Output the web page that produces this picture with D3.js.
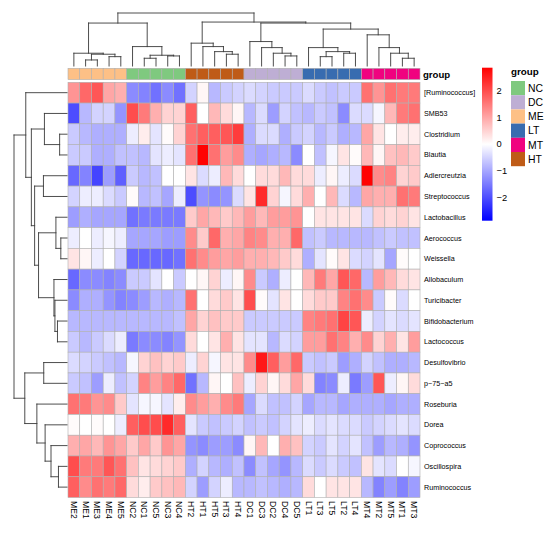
<!DOCTYPE html>
<html><head><meta charset="utf-8">
<script src="https://cdn.jsdelivr.net/npm/d3@7"></script>
<style>
body{margin:0;background:#fff}
svg{display:block}
text{font-family:"Liberation Sans",Arial,Helvetica,sans-serif;fill:#000}
</style>
</head><body>
<svg id="chart" width="550" height="533"></svg>
<script>
// ---------- data ----------
const cols = ["ME2","ME1","ME3","ME4","ME5","NC2","NC1","NC5","NC3","NC4",
  "HT2","HT1","HT5","HT3","HT4","DC1","DC3","DC2","DC4","DC5",
  "LT1","LT3","LT5","LT2","LT4","MT4","MT2","MT5","MT1","MT3"];
const colGroups = ["ME","ME","ME","ME","ME","NC","NC","NC","NC","NC",
  "HT","HT","HT","HT","HT","DC","DC","DC","DC","DC",
  "LT","LT","LT","LT","LT","MT","MT","MT","MT","MT"];
const rows = ["[Ruminococcus]","SMB53","Clostridium","Blautia","Adlercreutzia","Streptococcus",
  "Lactobacillus","Aerococcus","Weissella","Allobaculum","Turicibacter","Bifidobacterium",
  "Lactococcus","Desulfovibrio","p\u221275\u2212a5","Roseburia","Dorea","Coprococcus","Oscillospira","Ruminococcus"];
const groupNames = ["NC","DC","ME","LT","MT","HT"];
const groupColors = ["#7FC97F","#BEAED4","#FDC086","#386CB0","#F0027F","#BF5B17"];
const legendTicks = [2,1,0,-1,-2];
const values = [
 [1.2,1.7,1.9,1.0,0.9,-1.3,-1.4,-1.6,-1.3,-1.6,-0.5,0.1,-0.8,-0.6,-0.5,-0.4,-0.5,-0.6,-0.6,-0.6,-0.4,-0.6,-0.7,-0.6,-0.6,1.6,1.2,1.6,1.5,1.5],
 [-2.0,-0.8,-0.5,-0.5,-1.2,2.0,1.5,0.9,0.5,0.5,1.8,0.0,0.8,0.4,0.1,-0.8,-0.4,-1.1,-0.5,-0.7,-0.8,-0.6,-0.7,-1.3,-0.4,-0.4,-0.1,0.8,1.5,1.6],
 [-0.6,-0.8,-0.9,-0.9,-0.9,-0.2,0.2,-0.3,0.05,0.5,1.6,1.8,1.8,1.9,2.2,-0.9,-0.4,-0.4,-0.9,-0.6,-0.5,-0.8,-0.6,-0.9,-0.8,1.0,0.3,0.0,0.2,0.2],
 [-0.6,-0.6,-0.9,-0.9,-0.7,-0.7,-0.8,-0.3,-0.2,-0.3,1.6,2.85,1.6,1.1,1.3,-0.9,-1.0,-0.9,-0.8,-1.3,0.0,-0.7,-0.1,0.3,0.05,0.8,0.1,0.7,0.8,0.6],
 [-1.7,-1.4,-2.1,-1.1,-1.8,-0.6,-0.8,-0.7,0.0,0.0,0.3,-0.4,-0.2,0.8,0.4,0.0,0.4,0.4,0.8,0.4,0.4,-0.2,0.1,-0.2,-0.4,2.85,1.3,1.4,0.5,0.6],
 [-0.5,-0.2,-0.2,-0.4,-0.6,0.05,-0.8,-0.7,-1.0,-0.2,-2.0,-1.2,-1.3,-1.2,-0.4,0.3,2.4,0.5,-0.1,0.4,0.9,0.0,0.8,-0.4,-0.8,1.0,0.9,0.9,1.6,1.5],
 [-1.1,-0.9,-1.0,-1.0,-1.0,-1.6,-1.5,-1.5,-1.5,-1.5,0.6,1.0,0.8,0.6,0.8,1.1,0.8,1.1,1.1,1.2,0.0,0.3,0.3,0.3,0.3,-0.4,0.5,0.4,0.5,0.3],
 [-0.2,0.0,-0.2,-0.1,-0.2,-1.0,-1.0,-1.0,-1.1,-1.1,1.3,0.6,1.7,0.9,1.0,1.4,1.3,0.9,0.9,1.7,-0.7,-0.6,-0.8,-0.8,-0.8,-0.8,-0.7,-0.6,-0.7,-0.7],
 [0.3,0.1,-0.2,0.0,-0.5,-1.7,-1.7,-1.7,-1.7,-1.6,1.6,1.3,1.1,1.0,1.1,0.9,0.9,0.8,0.6,0.4,-0.9,-0.3,0.05,0.3,-0.4,-0.5,-0.3,-1.0,0.05,0.0],
 [-1.7,-1.3,-1.3,-1.4,-1.3,-0.6,-0.6,-0.3,0.0,-0.6,0.0,0.1,0.5,-0.2,0.1,1.3,-0.6,-0.9,-0.2,0.0,0.8,1.5,1.0,1.9,1.7,-0.8,1.1,0.8,0.4,0.3],
 [-1.3,-0.9,-0.9,-1.2,-1.4,-1.3,-1.1,-0.8,-0.9,-0.8,1.6,0.0,0.4,0.6,0.3,2.0,0.05,-0.3,0.3,0.0,0.4,0.6,0.6,1.4,1.6,1.3,-0.6,0.05,-0.4,0.0],
 [-0.8,-0.8,-0.8,-0.8,-0.8,-0.8,-0.8,-0.8,-0.8,-0.7,1.0,0.5,0.7,0.6,0.6,-0.6,-0.6,-0.6,-0.6,-0.6,1.4,1.5,1.6,2.1,1.9,-0.2,-0.5,-0.3,-0.4,-0.3],
 [-0.6,-0.8,-0.6,-0.4,-0.2,-1.5,-1.3,-1.3,-1.4,-1.2,0.4,0.0,0.3,0.9,0.3,-0.3,-0.3,-0.8,-0.4,-0.5,1.1,1.1,1.6,1.4,0.9,1.3,0.5,0.9,0.3,1.1],
 [-0.4,-0.5,-0.6,-0.7,-0.8,-0.1,0.5,0.7,0.5,0.6,-0.2,0.5,-0.1,0.3,0.3,1.3,2.6,1.8,1.1,1.7,-0.6,-0.7,-0.6,-1.1,-0.9,-0.5,-0.7,-0.9,-0.9,-0.8],
 [-0.6,-0.7,-1.1,-0.2,-0.7,-0.5,1.4,1.1,1.4,1.7,-1.6,-0.8,0.1,0.0,0.7,-0.2,0.5,0.1,0.4,1.0,0.4,-1.4,-1.3,-0.2,-1.5,-1.1,1.9,-0.2,0.1,0.4],
 [1.6,1.5,1.2,1.3,0.6,-0.3,-0.1,-0.1,-0.3,0.2,1.3,1.1,0.9,1.3,1.5,-1.0,-0.4,-0.7,-0.7,-0.5,-1.0,-0.8,-0.8,-1.0,-0.9,-0.9,-0.9,-1.0,-0.9,-0.9],
 [0.05,0.0,0.05,0.0,-0.2,1.8,2.0,2.0,2.4,1.8,-0.3,-0.6,-0.7,-0.6,-0.5,-0.7,-0.6,-0.7,-0.5,-0.3,-0.2,-0.4,-0.3,-0.4,-0.4,-0.6,-0.5,-0.4,-0.3,-0.4],
 [0.9,1.0,0.8,1.2,1.0,0.6,1.0,0.6,1.2,1.0,-1.2,-1.3,-1.1,-1.1,-1.3,0.1,0.8,0.0,0.9,0.7,-0.5,-0.6,-0.3,-0.5,-0.3,-0.7,-1.1,-0.8,-0.9,-1.2],
 [2.0,1.5,1.5,1.9,1.6,0.7,0.3,0.4,0.5,0.6,-0.9,-0.5,-0.8,-0.9,-0.7,-1.3,-0.7,-1.0,-1.2,-0.8,-0.4,-0.6,-0.4,-0.6,-0.7,0.3,-0.3,-0.4,0.0,-0.1],
 [1.8,1.3,1.6,1.5,1.7,0.4,0.2,0.6,0.7,0.8,-0.5,-1.1,-0.5,-0.2,-0.8,-0.8,-0.7,-0.8,-0.9,-0.8,0.4,0.0,0.3,0.3,0.3,-0.8,-1.4,-1.1,-1.4,-1.1]
];
// dendrograms: [mergeHeight, left, right]; leaves are names
const colTree = [52.7,
  [42.7,
    [12.7,"ME2",[11.7,[6,"ME1","ME3"],[9.3,"ME4","ME5"]]],
    [19.3,"NC2",[10.7,[7.7,"NC1","NC5"],[10,"NC3","NC4"]]]],
  [43.7,
    [22.7,"HT2",[19.3,"HT1",[14.3,"HT5",[11.7,"HT3","HT4"]]]],
    [42.7,
      [24.3,"DC1",[18.3,"DC3",[12.7,"DC2",[10,"DC4","DC5"]]]],
      [36.7,
        [18.3,"LT1",[14.3,[9.3,"LT3","LT5"],[12.7,"LT2","LT4"]]],
        [31,"MT4",[18.3,"MT2",[12.7,"MT5",[7.7,"MT1","MT3"]]]]]]]];
const rowTree = [54,
  [42,"[Ruminococcus]",
    [36.3,
      [23,"SMB53",[7.5,"Clostridium","Blautia"]],
      [33,[24,"Adlercreutzia","Streptococcus"],
        [29,
          [11.3,"Lactobacillus",[6.3,"Aerococcus","Weissella"]],
          [13.3,"Allobaculum",[12.3,"Turicibacter",[9.7,"Bifidobacterium","Lactococcus"]]]]]]],
  [43,[23.7,"Desulfovibrio","p\u221275\u2212a5"],
    [30.7,"Roseburia",[22.3,"Dorea",[16.3,"Coprococcus",[8.7,"Oscillospira","Ruminococcus"]]]]]];

// ---------- layout ----------
const svg = d3.select("#chart");
const x = d3.scaleBand().domain(cols).range([68,420]);
const y = d3.scaleBand().domain(rows).range([82.3,497.5]);
const color = d3.scaleLinear().domain([-2.87,0,2.87]).range(["#0000ff","#ffffff","#ff0000"]).clamp(true);
const grpColor = d3.scaleOrdinal().domain(groupNames).range(groupColors);
const border = "#b0b0b0";

// heatmap cells
const cells = [];
rows.forEach((r,i)=>cols.forEach((c,j)=>cells.push({r,c,v:values[i][j]})));
svg.append("g").selectAll("rect").data(cells).join("rect")
  .attr("x",d=>x(d.c)).attr("y",d=>y(d.r))
  .attr("width",x.bandwidth()).attr("height",y.bandwidth())
  .attr("fill",d=>color(d.v)).attr("stroke",border).attr("stroke-width",0.6);

// annotation bar
svg.append("g").selectAll("rect").data(cols).join("rect")
  .attr("x",d=>x(d)).attr("y",68.3).attr("width",x.bandwidth()).attr("height",11.3)
  .attr("fill",(d,i)=>grpColor(colGroups[i])).attr("stroke",border).attr("stroke-width",0.6);
svg.append("text").attr("x",423).attr("y",77.6).attr("font-size","9.6px").attr("font-weight","bold").text("group");

// dendrogram drawing
function dendro(tree, leafPos, hScale, vertical){
  const segs = [];
  function walk(n){
    if (typeof n === "string") return {p: leafPos(n), h: 0};
    const a = walk(n[1]), b = walk(n[2]);
    const h = n[0];
    segs.push([a.p,a.h,a.p,h],[b.p,b.h,b.p,h],[a.p,h,b.p,h]);
    return {p:(a.p+b.p)/2, h};
  }
  walk(tree);
  const g = svg.append("g").attr("stroke","#3a3a3a").attr("stroke-width",0.9).attr("fill","none");
  g.selectAll("line").data(segs).join("line")
    .attr(vertical?"x1":"y1",d=>d[0]).attr(vertical?"y1":"x1",d=>hScale(d[1]))
    .attr(vertical?"x2":"y2",d=>d[2]).attr(vertical?"y2":"x2",d=>hScale(d[3]))
    .attr("stroke-linecap","square");
}
dendro(colTree, c=>x(c)+x.bandwidth()/2, d3.scaleLinear().domain([0,52.7]).range([66,13]), true);
dendro(rowTree, r=>y(r)+y.bandwidth()/2, d3.scaleLinear().domain([0,54]).range([67,14]), false);

// row labels
svg.append("g").selectAll("text").data(rows).join("text")
  .attr("x",424).attr("y",d=>y(d)+y.bandwidth()/2).attr("dy","0.35em")
  .attr("font-size","7.2px").text(d=>d);

// column labels
svg.append("g").selectAll("text").data(cols).join("text")
  .attr("transform",d=>`translate(${x(d)+x.bandwidth()/2},501) rotate(90)`)
  .attr("dy","0.35em").attr("font-size","8.6px").text(d=>d);

// colour legend
const ly = d3.scaleLinear().domain([-2.87,2.87]).range([220.7,67.7]);
const grad = svg.append("defs").append("linearGradient").attr("id","lg")
  .attr("x1",0).attr("y1",1).attr("x2",0).attr("y2",0);
d3.range(0,1.0001,0.05).forEach(t=>{
  grad.append("stop").attr("offset",t).attr("stop-color",color(-2.87+t*5.74));
});
svg.append("rect").attr("x",482).attr("y",ly(2.87)).attr("width",10.5)
  .attr("height",ly(-2.87)-ly(2.87)).attr("fill","url(#lg)");
svg.append("g").selectAll("text").data(legendTicks).join("text")
  .attr("x",496.5).attr("y",d=>ly(d)).attr("dy","0.35em").attr("font-size","9.3px")
  .text(d=>d<0?"\u2212"+Math.abs(d):d);

// group legend
svg.append("text").attr("x",511).attr("y",74.5).attr("font-size","9.8px").attr("font-weight","bold").text("group");
const gl = svg.append("g").selectAll("g").data(groupNames).join("g")
  .attr("transform",(d,i)=>`translate(511,${81+i*14.2})`);
gl.append("rect").attr("width",14).attr("height",14.2).attr("fill",d=>grpColor(d));
gl.append("text").attr("x",17).attr("y",7.1).attr("dy","0.35em").attr("font-size","10.4px").text(d=>d);
</script>
</body></html>
